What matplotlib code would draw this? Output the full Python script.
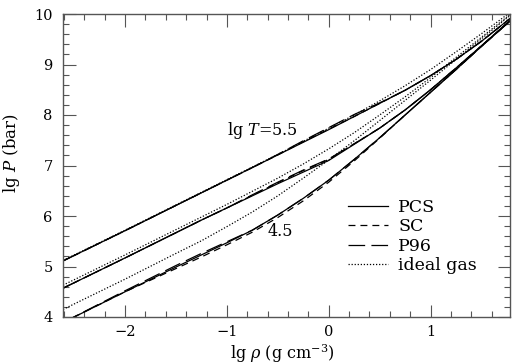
import matplotlib
matplotlib.use("Agg")
import matplotlib.pyplot as plt
from matplotlib.ticker import MultipleLocator

plt.rcParams['font.family'] = ['DejaVu Serif']
plt.rcParams['mathtext.fontset'] = 'dejavuserif'
plt.rcParams['lines.scale_dashes'] = False

# density grid (lg rho)
lgrho = [-2.61, -2.0, -1.5, -1.25, -1.0, -0.75, -0.5, -0.25, 0.0, 0.25, 0.5, 0.75, 1.0, 1.25, 1.5, 1.78]

# ideal gas
ideal_55 = [5.12, 5.72, 6.22, 6.47, 6.72, 6.97, 7.22, 7.48, 7.74, 8.00, 8.28, 8.58, 8.90, 9.25, 9.61, 10.03]
ideal_50 = [4.63, 5.23, 5.73, 5.98, 6.23, 6.49, 6.75, 7.03, 7.33, 7.65, 8.00, 8.36, 8.74, 9.14, 9.54, 9.99]
ideal_45 = [4.15, 4.75, 5.26, 5.51, 5.79, 6.08, 6.40, 6.75, 7.11, 7.49, 7.89, 8.29, 8.69, 9.10, 9.51, 9.97]

# PCS
pcs_55 = [5.11, 5.71, 6.21, 6.46, 6.71, 6.96, 7.21, 7.46, 7.71, 7.97, 8.23, 8.49, 8.78, 9.10, 9.46, 9.91]
pcs_50 = [4.57, 5.17, 5.67, 5.92, 6.16, 6.40, 6.64, 6.87, 7.10, 7.42, 7.74, 8.10, 8.50, 8.93, 9.37, 9.87]
pcs_45 = [3.89, 4.50, 4.99, 5.23, 5.47, 5.72, 6.02, 6.35, 6.71, 7.12, 7.55, 8.00, 8.45, 8.90, 9.36, 9.86]

# SC
sc_55 = [5.11, 5.71, 6.21, 6.46, 6.71, 6.96, 7.21, 7.47, 7.72, 7.97, 8.23, 8.49, 8.78, 9.10, 9.46, 9.91]
sc_50 = [4.57, 5.17, 5.67, 5.92, 6.16, 6.41, 6.66, 6.90, 7.12, 7.43, 7.74, 8.10, 8.50, 8.93, 9.37, 9.87]
sc_45 = [3.89, 4.50, 4.96, 5.19, 5.43, 5.68, 5.97, 6.30, 6.67, 7.09, 7.54, 8.00, 8.45, 8.90, 9.36, 9.86]

# P96
p96_55 = [5.11, 5.71, 6.21, 6.46, 6.71, 6.96, 7.22, 7.49, 7.75, 8.01, 8.24, 8.49, 8.78, 9.10, 9.46, 9.91]
p96_50 = [4.57, 5.17, 5.67, 5.92, 6.16, 6.42, 6.67, 6.91, 7.13, 7.43, 7.74, 8.10, 8.50, 8.93, 9.37, 9.87]
p96_45 = [3.89, 4.52, 5.02, 5.26, 5.49, 5.72, 6.02, 6.35, 6.71, 7.12, 7.55, 8.00, 8.45, 8.90, 9.36, 9.86]

fig = plt.figure(figsize=(5.12, 3.64), dpi=100)
ax = fig.add_axes([63/512, 1-317/364, 447/512, 303/364])

lw = 0.9
dot = (0, (0.9, 1.3))
sc_ls = (0, (5.0, 3.6))
p96_ls = (0, (12.0, 4.5))

for ideal in (ideal_55, ideal_50, ideal_45):
    ax.plot(lgrho, ideal, color='black', lw=lw, linestyle=dot)
for sc in (sc_55, sc_50, sc_45):
    ax.plot(lgrho, sc, color='black', lw=lw, linestyle=sc_ls)
for p in (p96_55, p96_50, p96_45):
    ax.plot(lgrho, p, color='black', lw=lw, linestyle=p96_ls)
for pc in (pcs_55, pcs_50, pcs_45):
    ax.plot(lgrho, pc, color='black', lw=lw, linestyle='-')

# legend handles
h1, = ax.plot([], [], color='black', lw=lw, linestyle='-', label='PCS')
h2, = ax.plot([], [], color='black', lw=lw, linestyle=sc_ls, label='SC')
h3, = ax.plot([], [], color='black', lw=lw, linestyle=p96_ls, label='P96')
h4, = ax.plot([], [], color='black', lw=lw, linestyle=dot, label='ideal gas')
ax.legend(handles=[h1, h2, h3, h4], loc='upper left', bbox_to_anchor=(0.638, 0.39),
          frameon=False, fontsize=12.5, handlelength=2.3, handletextpad=0.57,
          labelspacing=0.14, borderpad=0, borderaxespad=0)

ax.text(-1.0, 7.69, r'lg $T$=5.5', fontsize=11.5, ha='left', va='center')
ax.text(-0.60, 5.69, '4.5', fontsize=11.5, ha='left', va='center')

ax.set_xlim(-2.61, 1.78)
ax.set_ylim(4, 10)
ax.xaxis.set_major_locator(MultipleLocator(1))
ax.xaxis.set_minor_locator(MultipleLocator(0.2))
ax.yaxis.set_major_locator(MultipleLocator(1))
ax.yaxis.set_minor_locator(MultipleLocator(0.2))
ax.tick_params(which='both', direction='in', top=True, right=True, labelsize=10.5,
               width=0.8, color='#555555')
ax.tick_params(which='major', length=9)
ax.tick_params(which='minor', length=4.5)
ax.tick_params(axis='x', which='major', pad=6.0)
ax.tick_params(axis='y', which='major', pad=7.5)
for s in ax.spines.values():
    s.set_linewidth(1.0)
    s.set_color('#555555')

ax.set_xlabel(r'lg $\rho$ (g cm$^{-3}$)', fontsize=11.5)
ax.set_ylabel(r'lg $P$ (bar)', fontsize=12)
ax.xaxis.set_label_coords(0.49, -0.083)
ax.yaxis.set_label_coords(-0.092, 0.54)

fig.savefig('out.png', dpi=100)
